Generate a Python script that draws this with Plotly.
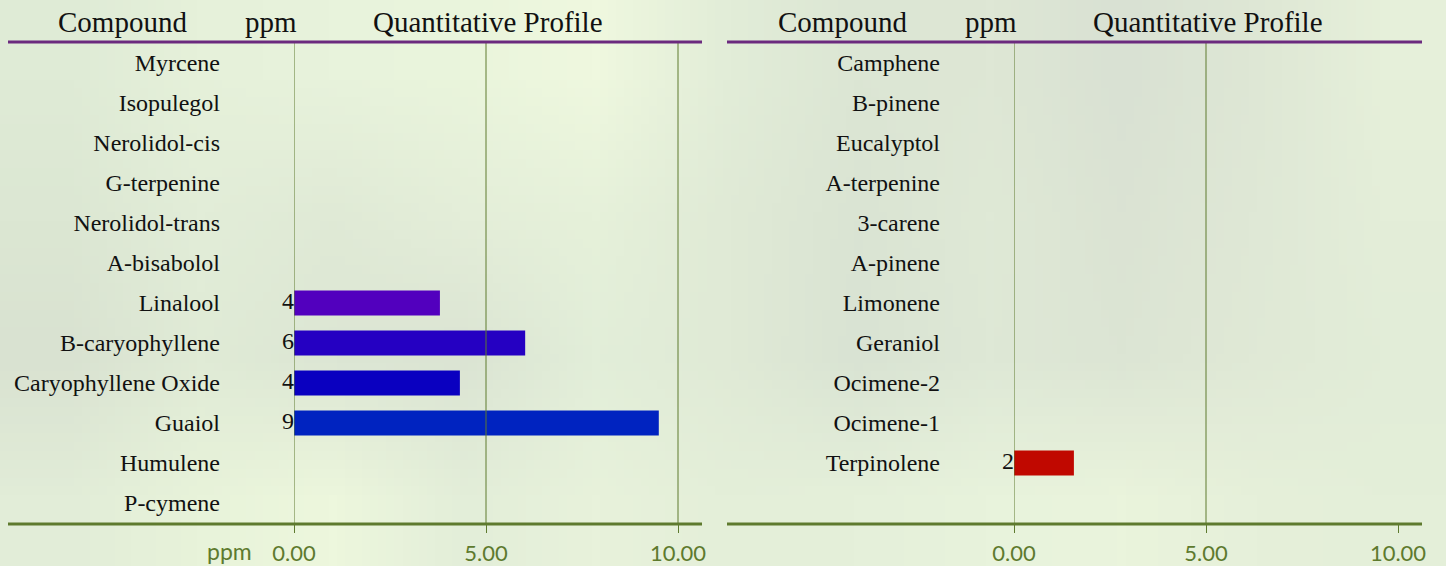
import base64
import struct
import zlib

import plotly.graph_objects as go

# ---------------- data ----------------
left_compounds = ["Myrcene", "Isopulegol", "Nerolidol-cis", "G-terpenine", "Nerolidol-trans",
                  "A-bisabolol", "Linalool", "B-caryophyllene", "Caryophyllene Oxide", "Guaiol",
                  "Humulene", "P-cymene"]
left_values = [None, None, None, None, None, None, 3.8, 6.02, 4.32, 9.5, None, None]
left_labels = ["", "", "", "", "", "", "4", "6", "4", "9", "", ""]
left_colors = ["#5200BE"] * 6 + ["#5200BE", "#2500C2", "#0A00C0", "#0023C0"] + ["#0023C0"] * 2

right_compounds = ["Camphene", "B-pinene", "Eucalyptol", "A-terpenine", "3-carene", "A-pinene",
                   "Limonene", "Geraniol", "Ocimene-2", "Ocimene-1", "Terpinolene", " "]
right_values = [None, None, None, None, None, None, None, None, None, None, 1.56, None]
right_labels = ["", "", "", "", "", "", "", "", "", "", "2", ""]
right_colors = ["#C00800"] * 12

tick_vals = [0, 5, 10]
tick_text = ["0.00", "5.00", "10.00"]
left_grid = [0, 5, 10]
right_grid = [0, 5]
x_max = 10.625

header_texts = ["Compound", "ppm", "Quantitative Profile"]

# ---------------- geometry (pixels) ----------------
W, H = 1446, 566
def px(x):
    return x / W
def py(y):
    return 1 - y / H

plot_top, plot_bot = 43, 523

# ---------------- background image ----------------
def hexrgb(h):
    h = h.lstrip("#")
    return tuple(int(h[i:i + 2], 16) for i in (0, 2, 4))

bg_rows = [
    ["#DFEBD6", "#E6F1DA", "#E8F3DC", "#EAF5DC", "#EFF8DF", "#E2EDD8", "#DCE6D4", "#DEE7D5", "#D9E1D3", "#DEE7D5", "#E6F0DA"],
    ["#DCE7D3", "#E2EDD8", "#E0EAD6", "#E4EED9", "#E6F1DA", "#E0EAD6", "#DAE4D3", "#DFE9D6", "#DBE3D3", "#DFE8D6", "#E4EED9"],
    ["#D9E2D1", "#E0EBD6", "#DCE6D4", "#DBE4D3", "#E2EED9", "#E0EAD6", "#D9E3D3", "#DEE8D6", "#DCE5D4", "#E0E9D6", "#E2EDD8"],
    ["#E2EDD8", "#E8F3DA", "#EDF7DD", "#E3EED9", "#E8F2DB", "#E4EFD9", "#E5F0DA", "#E8F3DC", "#EAF4DC", "#E6F0DA", "#E4EFD9"],
]

def png_uri(rows):
    h = len(rows)
    w = len(rows[0])
    raw = b"".join(b"\x00" + bytes([c for p in row for c in hexrgb(p)]) for row in rows)
    def chunk(t, d):
        return struct.pack(">I", len(d)) + t + d + struct.pack(">I", zlib.crc32(t + d) & 0xFFFFFFFF)
    png = (b"\x89PNG\r\n\x1a\n"
           + chunk(b"IHDR", struct.pack(">IIBBBBB", w, h, 8, 2, 0, 0, 0))
           + chunk(b"IDAT", zlib.compress(raw))
           + chunk(b"IEND", b""))
    return "data:image/png;base64," + base64.b64encode(png).decode()

# ---------------- figure ----------------
fig = go.Figure()

serif = "Liberation Serif, Times New Roman, serif"
sans = "Lato, Liberation Sans, sans-serif"
olive = "#5E7A2E"
purple = "#6B2A7E"

panels = [
    (left_compounds, left_values, left_labels, left_colors, "x", "y"),
    (right_compounds, right_values, right_labels, right_colors, "x2", "y2"),
]
for comps, vals, labs, cols, xa, ya in panels:
    fig.add_trace(go.Bar(
        x=vals, y=comps, orientation="h", marker=dict(color=cols, line=dict(width=0)),
        xaxis=xa, yaxis=ya, showlegend=False, hoverinfo="x+y",
    ))
    fig.add_trace(go.Scatter(
        x=[0] * len(comps), y=comps, text=labs, mode="text", textposition="middle left",
        textfont=dict(family=serif, size=24, color="#111111"), cliponaxis=False,
        xaxis=xa, yaxis=ya, showlegend=False, hoverinfo="skip",
    ))

xcommon = dict(range=[0, x_max], tickvals=tick_vals, ticktext=tick_text, showgrid=False,
               zeroline=False, showline=False, ticks="outside", ticklen=9, tickwidth=1,
               tickcolor=olive, tickfont=dict(family=sans, size=22, color=olive),
               ticklabelstandoff=2, fixedrange=True, automargin=False)
ycommon = dict(autorange=False, range=[11.5, -0.5], showgrid=False, zeroline=False,
               showline=False, ticks="", tickfont=dict(family=serif, size=24, color="#111111"),
               ticklabelstandoff=73, fixedrange=True, automargin=False)

fig.update_layout(
    width=W, height=H,
    margin=dict(l=0, r=0, t=0, b=0, autoexpand=False),
    paper_bgcolor="#E2EDD8",
    plot_bgcolor="rgba(0,0,0,0)",
    bargap=0.375,
    xaxis=dict(domain=[px(294), px(702)], anchor="y", **xcommon),
    xaxis2=dict(domain=[px(1014), px(1422)], anchor="y2", **xcommon),
    yaxis=dict(domain=[py(plot_bot), py(plot_top)], anchor="x",
               categoryorder="array", categoryarray=left_compounds, **ycommon),
    yaxis2=dict(domain=[py(plot_bot), py(plot_top)], anchor="x2",
                categoryorder="array", categoryarray=right_compounds, **ycommon),
    images=[dict(source=png_uri(bg_rows), xref="paper", yref="paper", x=0, y=1,
                 sizex=1, sizey=1, xanchor="left", yanchor="top", sizing="stretch",
                 layer="below")],
)

shapes = []
for v in left_grid:
    shapes.append(dict(type="line", xref="x", yref="paper", x0=v, x1=v,
                       y0=py(plot_bot + 1), y1=py(plot_top), line=dict(color=olive, width=1)))
for v in right_grid:
    shapes.append(dict(type="line", xref="x2", yref="paper", x0=v, x1=v,
                       y0=py(plot_bot + 1), y1=py(plot_top), line=dict(color=olive, width=1)))
for x0, x1 in [(8, 702), (727, 1422)]:
    shapes.append(dict(type="line", xref="paper", yref="paper", x0=px(x0), x1=px(x1),
                       y0=py(42), y1=py(42), line=dict(color=purple, width=3)))
    shapes.append(dict(type="line", xref="paper", yref="paper", x0=px(x0), x1=px(x1),
                       y0=py(524), y1=py(524), line=dict(color=olive, width=3)))
fig.update_layout(shapes=shapes)

annotations = []
for offset in [0, 720]:
    for text, cx in zip(header_texts, [122, 271, 488]):
        annotations.append(dict(text=text, xref="paper", yref="paper", x=px(cx + offset), y=py(22),
                                xanchor="center", yanchor="middle", showarrow=False,
                                font=dict(family=serif, size=29, color="#111111")))
annotations.append(dict(text="ppm", xref="paper", yref="paper", x=px(229), y=py(551),
                        xanchor="center", yanchor="middle", showarrow=False,
                        font=dict(family=sans, size=23, color=olive)))
fig.update_layout(annotations=annotations)

fig.write_html("out.html", config={"displayModeBar": False},
               post_script="document.body.style.margin='0';document.body.style.overflow='hidden';")
